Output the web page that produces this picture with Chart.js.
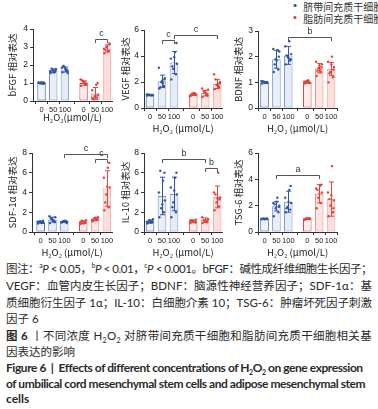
<!DOCTYPE html>
<html>
<head>
<meta charset="utf-8">
<script src="https://cdn.jsdelivr.net/npm/chart.js@4.4.1/dist/chart.umd.min.js"></script>
<style>
  body { margin: 0; width: 378px; height: 409px; background: #fff; position: relative; overflow: hidden;
         font-family: "Noto Sans CJK SC", sans-serif; color: #222; }
  .panel { position: absolute; }
  .legend { position: absolute; left: 289px; top: 1px; font-size: 10px; line-height: 10.5px; color: #333; white-space: nowrap; }
  .legend b { font-size: 12px; }
  .cap { position: absolute; left: 6px; height: 16px; line-height: 16px; font-size: 11.5px;
         font-family: "Lato", "Noto Sans CJK SC", sans-serif; color: #2a2a2a; white-space: nowrap; }
  .cap.en { font-weight: bold; font-size: 12px; }
  .cap sup { font-size: 7px; line-height: 0; }
  .cap sub { font-size: 7px; line-height: 0; }
</style>
</head>
<body>
<div class="legend">
  <div><b style="color:#2f55a4">·</b> 脐带间充质干细胞</div>
  <div><b style="color:#e8403a">·</b> 脂肪间充质干细胞</div>
</div>

<div class="cap" data-w="366" style="top:261px">图注：<sup>a</sup><i>P</i> &lt; 0.05，<sup>b</sup><i>P</i> &lt; 0.01，<sup>c</sup><i>P</i> &lt; 0.001。bFGF：碱性成纤维细胞生长因子；</div>
<div class="cap" data-w="366" style="top:278px">VEGF：血管内皮生长因子；BDNF：脑源性神经营养因子；SDF-1α：基</div>
<div class="cap" data-w="366" style="top:295px">质细胞衍生因子 1α；IL-10：白细胞介素 10；TSG-6：肿瘤坏死因子刺激</div>
<div class="cap" style="top:311px">因子 6</div>
<div class="cap" data-w="366" style="top:328px"><b>图 6</b> 丨不同浓度 H<sub>2</sub>O<sub>2</sub> 对脐带间充质干细胞和脂肪间充质干细胞相关基</div>
<div class="cap" style="top:344px">因表达的影响</div>
<div class="cap en" data-w="356" style="top:360px">Figure 6 &nbsp;|&nbsp; Effects of different concentrations of H<sub>2</sub>O<sub>2</sub> on gene expression</div>
<div class="cap en" data-w="359" style="top:376px">of umbilical cord mesenchymal stem cells and adipose mesenchymal stem</div>
<div class="cap en" style="top:391px">cells</div>

<script>
// H2O2 dose labels under the bars: umbilical cord group, then adipose group
const doses = ['0', '50', '100', '0', '50', '100'];

// bFGF
const bfgfMean = [1.0, 1.68, 1.75, 1.0, 0.42, 2.92];
const bfgfSd = [0.04, 0.1, 0.14, 0.12, 0.33, 0.2];
const bfgfPoints = [
  [1.02, 0.97, 1.0, 0.98, 1.03, 0.96, 1.01, 0.99, 1.04],
  [1.55, 1.62, 1.7, 1.78, 1.65, 1.58, 1.72, 1.8, 1.68],
  [1.6, 1.75, 1.9, 1.55, 1.85, 1.7, 1.65, 1.95, 1.8],
  [0.85, 1.0, 1.1, 0.95, 1.2, 1.05, 0.9, 1.15, 1.0],
  [0.15, 0.2, 0.25, 0.35, 0.6, 0.9, 1.0, 0.1, 0.3],
  [2.65, 2.8, 3.0, 3.15, 2.9, 2.75, 3.2, 2.85, 3.05]
];
const bfgfSig = [[4, 5, 3.45, 'c']];

// VEGF
const vegfMean = [1.0, 2.05, 3.5, 1.05, 1.15, 1.85];
const vegfSd = [0.04, 0.48, 0.85, 0.08, 0.22, 0.35];
const vegfPoints = [
  [0.95, 1.0, 1.02, 0.98, 1.05, 0.97, 1.0, 1.03, 0.99],
  [1.5, 1.7, 2.0, 2.3, 3.1, 1.9, 2.2, 1.6, 2.1],
  [2.2, 2.6, 3.0, 3.4, 3.8, 4.3, 5.0, 3.2, 3.9],
  [0.95, 1.0, 1.1, 1.05, 0.9, 1.15, 1.0, 1.05, 1.1],
  [0.85, 1.0, 1.2, 1.4, 1.5, 1.1, 0.95, 1.3, 1.2],
  [1.45, 1.6, 1.8, 2.0, 2.6, 1.7, 1.9, 2.2, 1.75]
];
const vegfSig = [[1, 2, 5.2, 'c'], [2, 5, 5.6, 'c']];

// BDNF
const bdnfMean = [1.0, 1.9, 2.05, 1.0, 1.55, 1.52];
const bdnfSd = [0.03, 0.35, 0.35, 0.04, 0.18, 0.25];
const bdnfPoints = [
  [0.95, 1.0, 1.02, 0.98, 1.05, 0.97, 1.0, 1.03, 0.99],
  [1.4, 1.5, 1.9, 2.2, 2.3, 2.25, 2.0, 1.7, 1.85],
  [1.7, 1.85, 2.0, 2.1, 2.4, 2.6, 1.9, 2.05, 1.95],
  [0.95, 1.0, 1.05, 0.98, 1.02, 1.08, 0.97, 1.0, 1.03],
  [1.25, 1.4, 1.55, 1.7, 1.8, 1.5, 1.6, 1.45, 1.65],
  [1.0, 1.2, 1.4, 1.6, 1.8, 2.0, 1.5, 1.35, 1.7]
];
const bdnfSig = [[2, 5, 2.75, 'b']];

// SDF-1α
const sdfMean = [1.0, 1.25, 1.05, 1.0, 1.3, 4.4];
const sdfSd = [0.1, 0.25, 0.08, 0.14, 0.13, 1.8];
const sdfPoints = [
  [0.85, 1.0, 1.1, 0.95, 1.05, 0.9, 1.15, 1.0, 1.0],
  [0.9, 1.1, 1.3, 1.5, 1.6, 1.2, 1.0, 1.4, 1.25],
  [0.95, 1.0, 1.1, 1.05, 1.0, 1.15, 0.9, 1.05, 1.1],
  [0.8, 0.95, 1.1, 1.2, 1.0, 0.9, 1.05, 1.15, 0.85],
  [1.1, 1.2, 1.35, 1.5, 1.25, 1.4, 1.3, 1.15, 1.45],
  [2.2, 2.5, 3.8, 4.5, 5.5, 6.5, 7.0, 3.0, 4.6]
];
const sdfSig = [[2, 5, 7.9, 'c'], [4, 5, 7.35, 'c']];

// IL-10
const il10Mean = [1.05, 3.65, 3.85, 1.1, 1.2, 3.55];
const il10Sd = [0.15, 1.9, 1.7, 0.13, 0.22, 1.1];
const il10Points = [
  [0.85, 1.0, 1.2, 1.3, 1.05, 0.95, 1.1, 1.0, 1.15],
  [1.5, 2.0, 2.4, 3.2, 4.0, 5.2, 6.0, 6.2, 2.8],
  [1.5, 2.0, 3.0, 3.8, 4.5, 5.5, 6.0, 2.5, 4.2],
  [0.9, 1.0, 1.1, 1.25, 1.15, 1.05, 0.95, 1.2, 1.1],
  [0.9, 1.0, 1.15, 1.3, 1.5, 1.1, 1.25, 1.2, 1.05],
  [2.2, 2.6, 3.0, 3.5, 4.0, 6.0, 3.3, 3.8, 3.4]
];
const il10Sig = [[1, 4, 7.4, 'b'], [4, 5, 6.5, 'b']];

// TSG-6
const tsgMean = [1.0, 1.95, 2.3, 1.0, 2.9, 2.5];
const tsgSd = [0.03, 0.35, 0.8, 0.04, 0.7, 1.3];
const tsgPoints = [
  [0.97, 1.0, 1.02, 0.98, 1.01, 0.99, 1.03, 1.0, 0.96],
  [1.2, 1.5, 1.8, 2.0, 2.2, 2.6, 1.9, 2.1, 2.3],
  [1.5, 1.7, 1.9, 2.2, 2.6, 3.2, 3.5, 1.8, 2.3],
  [0.95, 1.0, 1.05, 1.0, 0.98, 1.02, 1.04, 0.97, 1.0],
  [1.8, 2.2, 2.6, 3.0, 3.3, 3.5, 3.6, 3.2, 2.9],
  [1.2, 1.5, 2.0, 2.4, 3.0, 5.0, 1.8, 2.5, 2.8]
];
const tsgSig = [[1, 4, 4.3, 'a']];

// layout / style constants
const barPos = [0, 1, 2, 3.6, 4.6, 5.6];
const jitter = [-0.22, 0.16, -0.06, 0.24, -0.26, 0.08, 0.2, -0.14, 0.02];
const barFill = ['#eef2fa', '#e9eef8', '#e6ecf7', '#fdeceb', '#fce6e4', '#fbdfdc'];
const barEdge = ['#2f55a4', '#6f8cc8', '#7d97cc', '#e8403a', '#ef7a74', '#f29c97'];
const dotColor = ['#2f55a4', '#e8403a'];
const axisColor = '#333';
const xTickFont = { family: 'Liberation Sans', size: 7.5 };
const yTickFont = { family: 'Liberation Sans', size: 8.5 };
const titleFont = { family: 'Noto Sans CJK SC', size: 9.5 };

const panels = [
  { gene: 'bFGF', mean: bfgfMean, sd: bfgfSd, points: bfgfPoints, sig: bfgfSig, yMax: 4, step: 1,
    box: [0, 0, 120, 125], yW: 33, top: 29, xH: 24, padR: 8, xMin: -0.73, xMax: 6.03, tPad: 7, unit: 'H₂O₂(μmol/L)' },
  { gene: 'VEGF', mean: vegfMean, sd: vegfSd, points: vegfPoints, sig: vegfSig, yMax: 6, step: 2,
    box: [118, 0, 120, 136], yW: 26, top: 30, xH: 28, padR: 16, xMin: -0.5, xMax: 6.0, tPad: 1.5, unit: 'H₂O₂ (μmol/L)' },
  { gene: 'BDNF', mean: bdnfMean, sd: bdnfSd, points: bdnfPoints, sig: bdnfSig, yMax: 3, step: 1,
    box: [232, 22, 146, 114], yW: 26, top: 9, xH: 28, padR: 41, xMin: -0.55, xMax: 6.1, tPad: 0.5, unit: 'H₂O₂ (μmol/L)' },
  { gene: 'SDF-1α', mean: sdfMean, sd: sdfSd, points: sdfPoints, sig: sdfSig, yMax: 8, step: 2,
    box: [0, 136, 120, 124], yW: 32, top: 17, xH: 28, padR: 8, xMin: -0.73, xMax: 6.03, tPad: 7, unit: 'H₂O₂ (μmol/L)' },
  { gene: 'IL-10', mean: il10Mean, sd: il10Sd, points: il10Points, sig: il10Sig, yMax: 8, step: 2,
    box: [118, 136, 120, 124], yW: 26, top: 17, xH: 28, padR: 16, xMin: -0.5, xMax: 6.0, tPad: 1.5, unit: 'H₂O₂ (μmol/L)' },
  { gene: 'TSG-6', mean: tsgMean, sd: tsgSd, points: tsgPoints, sig: tsgSig, yMax: 6, step: 2,
    box: [232, 136, 146, 124], yW: 26, top: 17, xH: 28, padR: 41, xMin: -0.55, xMax: 6.1, tPad: 0.5, unit: 'H₂O₂ (μmol/L)' }
];

// error bars (mean ± SD) and significance brackets
function drawExtras(chart, p) {
  const { ctx, scales: { x, y } } = chart;
  ctx.save();
  ctx.lineWidth = 1;
  p.mean.forEach((m, i) => {
    const px = Math.round(x.getPixelForValue(barPos[i])) + 0.5;
    const top = y.getPixelForValue(m + p.sd[i]);
    const bot = y.getPixelForValue(Math.max(0, m - p.sd[i]));
    const cap = 2.5;
    ctx.strokeStyle = dotColor[i < 3 ? 0 : 1];
    ctx.beginPath();
    ctx.moveTo(px, top); ctx.lineTo(px, bot);
    ctx.moveTo(px - cap, top); ctx.lineTo(px + cap, top);
    ctx.moveTo(px - cap, bot); ctx.lineTo(px + cap, bot);
    ctx.stroke();
  });
  ctx.strokeStyle = '#555';
  ctx.fillStyle = '#333';
  ctx.font = '9px "Liberation Sans"';
  ctx.textAlign = 'center';
  ctx.textBaseline = 'bottom';
  p.sig.forEach(([a, b, level, mark]) => {
    const x1 = Math.round(x.getPixelForValue(barPos[a])) + 0.5;
    const x2 = Math.round(x.getPixelForValue(barPos[b])) + 0.5;
    const yy = Math.round(y.getPixelForValue(level)) + 0.5;
    ctx.beginPath();
    ctx.moveTo(x1, yy + 3.5); ctx.lineTo(x1, yy); ctx.lineTo(x2, yy); ctx.lineTo(x2, yy + 3.5);
    ctx.stroke();
    ctx.fillText(mark, (x1 + x2) / 2, yy - 1);
  });
  ctx.restore();
}

function makePanel(p) {
  const [left, top, w, h] = p.box;
  const wrap = document.createElement('div');
  wrap.className = 'panel';
  wrap.style.cssText = `left:${left}px;top:${top}px;width:${w}px;height:${h}px`;
  const canvas = document.createElement('canvas');
  canvas.width = w; canvas.height = h;
  canvas.style.width = w + 'px'; canvas.style.height = h + 'px';
  wrap.appendChild(canvas);
  document.body.appendChild(wrap);

  const dots = [0, 1].map(g => ({
    type: 'scatter',
    data: p.points.slice(g * 3, g * 3 + 3).flatMap((vals, k) =>
      vals.map((v, j) => ({ x: barPos[g * 3 + k] + jitter[j % jitter.length], y: v }))),
    pointRadius: 1.2,
    pointBorderWidth: 0,
    pointBackgroundColor: dotColor[g],
    order: 0
  }));

  new Chart(canvas, {
    type: 'bar',
    data: {
      datasets: [{
        data: p.mean.map((m, i) => ({ x: barPos[i], y: m })),
        backgroundColor: barFill,
        borderColor: barEdge,
        borderWidth: 1,
        borderSkipped: false,
        barPercentage: 0.72,
        categoryPercentage: 1,
        order: 1
      }, ...dots]
    },
    options: {
      responsive: false,
      animation: false,
      devicePixelRatio: 1,
      layout: { padding: { top: p.top, right: p.padR, left: 0, bottom: 0 } },
      plugins: { legend: { display: false }, tooltip: { enabled: false } },
      scales: {
        x: {
          type: 'linear', min: p.xMin, max: p.xMax, offset: false,
          afterBuildTicks: s => { s.ticks = barPos.map(v => ({ value: v })); },
          afterFit: s => { s.height = p.xH; },
          ticks: { callback: (v, i) => doses[i], autoSkip: false, maxRotation: 0, padding: 1, font: xTickFont, color: '#222' },
          grid: { drawOnChartArea: false, tickLength: 3, color: axisColor },
          border: { color: axisColor, width: 1 },
          title: { display: true, text: p.unit, font: titleFont, color: '#222', padding: { top: 0, bottom: 2 } }
        },
        y: {
          min: 0, max: p.yMax,
          afterFit: s => { s.width = p.yW; },
          ticks: { stepSize: p.step, padding: 2, font: yTickFont, color: '#222' },
          grid: { drawOnChartArea: false, tickLength: 3, color: axisColor },
          border: { color: axisColor, width: 1 },
          title: { display: true, text: p.gene + ' 相对表达', font: titleFont, color: '#222', padding: { top: p.tPad, bottom: 0 } }
        }
      }
    },
    plugins: [{ id: 'extras', afterDatasetsDraw: chart => drawExtras(chart, p) }]
  });
}

panels.forEach(makePanel);

// stretch or squeeze each full caption line to the printed line width
document.querySelectorAll('.cap[data-w]').forEach(el => {
  const target = +el.dataset.w;
  const natural = el.getBoundingClientRect().width;
  const n = el.textContent.length;
  el.style.letterSpacing = ((target - natural) / n).toFixed(3) + 'px';
});
</script>
</body>
</html>
